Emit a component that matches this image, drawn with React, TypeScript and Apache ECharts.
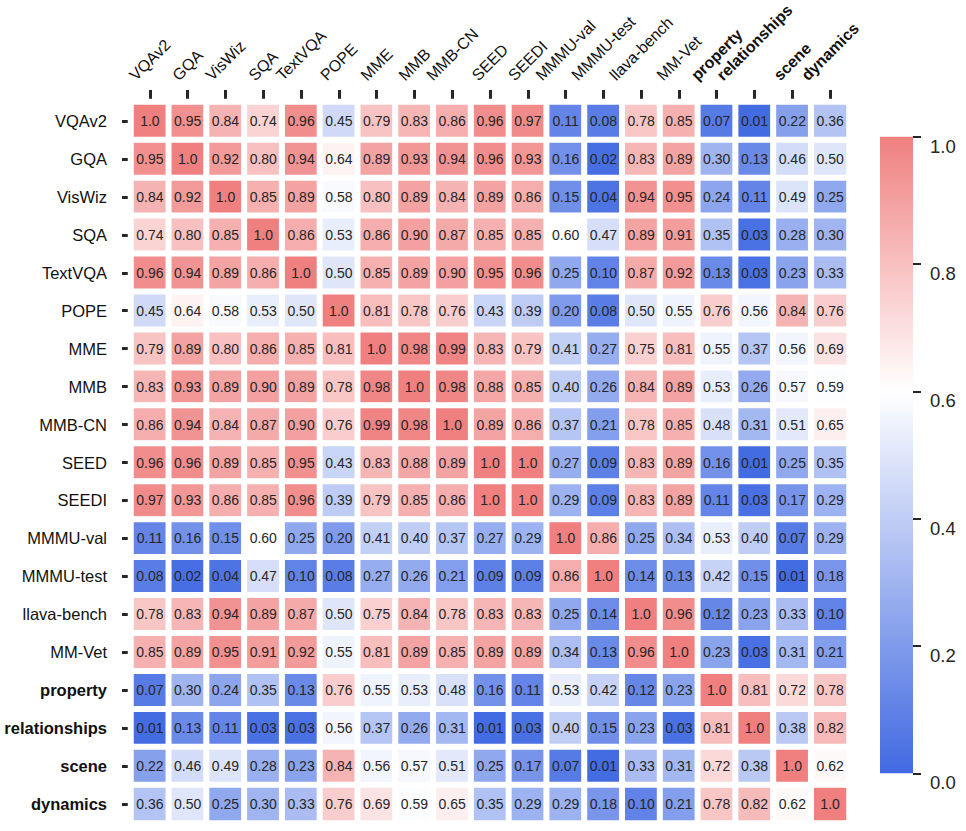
import React, { useEffect, useRef } from 'react';
import * as echarts from 'echarts';

const FONT = '"Liberation Sans", Arial, Helvetica, sans-serif';

const benchmarks = [
  'VQAv2', 'GQA', 'VisWiz', 'SQA', 'TextVQA', 'POPE', 'MME', 'MMB', 'MMB-CN', 'SEED', 'SEEDI',
  'MMMU-val', 'MMMU-test', 'llava-bench', 'MM-Vet', 'property', 'relationships', 'scene', 'dynamics',
];
const boldNames = ['property', 'relationships', 'scene', 'dynamics'];

const rowVQAv2 = [1.0, 0.95, 0.84, 0.74, 0.96, 0.45, 0.79, 0.83, 0.86, 0.96, 0.97, 0.11, 0.08, 0.78, 0.85, 0.07, 0.01, 0.22, 0.36];
const rowGQA = [0.95, 1.0, 0.92, 0.80, 0.94, 0.64, 0.89, 0.93, 0.94, 0.96, 0.93, 0.16, 0.02, 0.83, 0.89, 0.30, 0.13, 0.46, 0.50];
const rowVisWiz = [0.84, 0.92, 1.0, 0.85, 0.89, 0.58, 0.80, 0.89, 0.84, 0.89, 0.86, 0.15, 0.04, 0.94, 0.95, 0.24, 0.11, 0.49, 0.25];
const rowSQA = [0.74, 0.80, 0.85, 1.0, 0.86, 0.53, 0.86, 0.90, 0.87, 0.85, 0.85, 0.60, 0.47, 0.89, 0.91, 0.35, 0.03, 0.28, 0.30];
const rowTextVQA = [0.96, 0.94, 0.89, 0.86, 1.0, 0.50, 0.85, 0.89, 0.90, 0.95, 0.96, 0.25, 0.10, 0.87, 0.92, 0.13, 0.03, 0.23, 0.33];
const rowPOPE = [0.45, 0.64, 0.58, 0.53, 0.50, 1.0, 0.81, 0.78, 0.76, 0.43, 0.39, 0.20, 0.08, 0.50, 0.55, 0.76, 0.56, 0.84, 0.76];
const rowMME = [0.79, 0.89, 0.80, 0.86, 0.85, 0.81, 1.0, 0.98, 0.99, 0.83, 0.79, 0.41, 0.27, 0.75, 0.81, 0.55, 0.37, 0.56, 0.69];
const rowMMB = [0.83, 0.93, 0.89, 0.90, 0.89, 0.78, 0.98, 1.0, 0.98, 0.88, 0.85, 0.40, 0.26, 0.84, 0.89, 0.53, 0.26, 0.57, 0.59];
const rowMMBCN = [0.86, 0.94, 0.84, 0.87, 0.90, 0.76, 0.99, 0.98, 1.0, 0.89, 0.86, 0.37, 0.21, 0.78, 0.85, 0.48, 0.31, 0.51, 0.65];
const rowSEED = [0.96, 0.96, 0.89, 0.85, 0.95, 0.43, 0.83, 0.88, 0.89, 1.0, 1.0, 0.27, 0.09, 0.83, 0.89, 0.16, 0.01, 0.25, 0.35];
const rowSEEDI = [0.97, 0.93, 0.86, 0.85, 0.96, 0.39, 0.79, 0.85, 0.86, 1.0, 1.0, 0.29, 0.09, 0.83, 0.89, 0.11, 0.03, 0.17, 0.29];
const rowMMMUval = [0.11, 0.16, 0.15, 0.60, 0.25, 0.20, 0.41, 0.40, 0.37, 0.27, 0.29, 1.0, 0.86, 0.25, 0.34, 0.53, 0.40, 0.07, 0.29];
const rowMMMUtest = [0.08, 0.02, 0.04, 0.47, 0.10, 0.08, 0.27, 0.26, 0.21, 0.09, 0.09, 0.86, 1.0, 0.14, 0.13, 0.42, 0.15, 0.01, 0.18];
const rowLlavaBench = [0.78, 0.83, 0.94, 0.89, 0.87, 0.50, 0.75, 0.84, 0.78, 0.83, 0.83, 0.25, 0.14, 1.0, 0.96, 0.12, 0.23, 0.33, 0.10];
const rowMMVet = [0.85, 0.89, 0.95, 0.91, 0.92, 0.55, 0.81, 0.89, 0.85, 0.89, 0.89, 0.34, 0.13, 0.96, 1.0, 0.23, 0.03, 0.31, 0.21];
const rowProperty = [0.07, 0.30, 0.24, 0.35, 0.13, 0.76, 0.55, 0.53, 0.48, 0.16, 0.11, 0.53, 0.42, 0.12, 0.23, 1.0, 0.81, 0.72, 0.78];
const rowRelationships = [0.01, 0.13, 0.11, 0.03, 0.03, 0.56, 0.37, 0.26, 0.31, 0.01, 0.03, 0.40, 0.15, 0.23, 0.03, 0.81, 1.0, 0.38, 0.82];
const rowScene = [0.22, 0.46, 0.49, 0.28, 0.23, 0.84, 0.56, 0.57, 0.51, 0.25, 0.17, 0.07, 0.01, 0.33, 0.31, 0.72, 0.38, 1.0, 0.62];
const rowDynamics = [0.36, 0.50, 0.25, 0.30, 0.33, 0.76, 0.69, 0.59, 0.65, 0.35, 0.29, 0.29, 0.18, 0.10, 0.21, 0.78, 0.82, 0.62, 1.0];

const corrRows = [
  rowVQAv2, rowGQA, rowVisWiz, rowSQA, rowTextVQA, rowPOPE, rowMME, rowMMB, rowMMBCN, rowSEED, rowSEEDI,
  rowMMMUval, rowMMMUtest, rowLlavaBench, rowMMVet, rowProperty, rowRelationships, rowScene, rowDynamics,
];

// colormap: royalblue (0) -> white (0.6) -> lightcoral (1.0), evenly spaced stops every 0.2
const cmapStops = ['#4169E1', '#809BEB', '#C0CDF5', '#FFFFFF', '#F8C0C0', '#F08080'];

const LABEL_SIZE = 16.5;
const XLABEL_SIZE = 16;
const TEXT_DARK = '#262626';
const LABEL_COLOR = '#111111';
const GRID_TOP = 102;

export default function App() {
  const ref = useRef<HTMLDivElement>(null);

  useEffect(() => {
    if (!ref.current) return;
    const chart = echarts.init(ref.current, null, { renderer: 'svg' });

    const canvas = document.createElement('canvas');
    const ctx = canvas.getContext('2d') as CanvasRenderingContext2D;
    const measure = (t: string, bold: boolean) => {
      ctx.font = `${bold ? 'bold ' : ''}${XLABEL_SIZE}px ${FONT}`;
      return ctx.measureText(t).width;
    };

    const yData = benchmarks.map((name) => ({
      value: name,
      textStyle: { fontWeight: boldNames.includes(name) ? 'bold' : 'normal' },
    }));

    const heatData: number[][] = [];
    corrRows.forEach((row, yi) => {
      row.forEach((v, xi) => heatData.push([xi, yi, v]));
    });

    const gradient = new echarts.graphic.LinearGradient(0, 0, 0, 1, [
      { offset: 0, color: cmapStops[5] },
      { offset: 0.2, color: cmapStops[4] },
      { offset: 0.4, color: cmapStops[3] },
      { offset: 0.6, color: cmapStops[2] },
      { offset: 0.8, color: cmapStops[1] },
      { offset: 1, color: cmapStops[0] },
    ]);

    chart.setOption({
      animation: false,
      backgroundColor: '#ffffff',
      textStyle: { fontFamily: FONT },
      grid: [
        { left: 131, top: GRID_TOP, width: 718, height: 721, containLabel: false },
        { left: 880, top: 136.7, width: 33, height: 636.6, containLabel: false },
      ],
      xAxis: [
        {
          type: 'category',
          gridIndex: 0,
          position: 'top',
          data: benchmarks,
          axisLine: { show: false },
          axisTick: { show: true, alignWithLabel: true, length: 12, lineStyle: { width: 3, color: TEXT_DARK } },
          axisLabel: { show: false, interval: 0 },
          splitLine: { show: false },
        },
        {
          type: 'category',
          gridIndex: 1,
          data: ['cb'],
          show: false,
        },
      ],
      yAxis: [
        {
          type: 'category',
          gridIndex: 0,
          inverse: true,
          data: yData,
          axisLine: { show: false },
          axisTick: { show: true, alignWithLabel: true, length: 9, lineStyle: { width: 3, color: TEXT_DARK } },
          axisLabel: {
            interval: 0,
            margin: 24,
            fontSize: LABEL_SIZE,
            fontFamily: FONT,
            color: LABEL_COLOR,
          },
          splitLine: { show: false },
        },
        {
          type: 'value',
          gridIndex: 1,
          position: 'right',
          min: 0,
          max: 1,
          interval: 0.2,
          axisLine: { show: false },
          splitLine: { show: false },
          axisTick: { show: true, length: 8, lineStyle: { width: 2, color: TEXT_DARK } },
          axisLabel: {
            margin: 17,
            fontSize: 18.5,
            fontFamily: FONT,
            color: TEXT_DARK,
            verticalAlign: 'top',
            formatter: (v: number) => v.toFixed(1),
          },
        },
      ],
      visualMap: {
        type: 'continuous',
        show: false,
        min: 0,
        max: 1,
        seriesIndex: 0,
        dimension: 2,
        inRange: { color: cmapStops },
      },
      series: [
        {
          type: 'heatmap',
          xAxisIndex: 0,
          yAxisIndex: 0,
          data: heatData,
          itemStyle: { borderColor: '#ffffff', borderWidth: 6 },
          label: {
            show: true,
            fontSize: 14,
            fontFamily: FONT,
            color: TEXT_DARK,
            formatter: (p: any) => {
              const v = p.value[2];
              return v >= 0.995 ? v.toFixed(1) : v.toFixed(2);
            },
          },
          emphasis: { disabled: true },
          silent: true,
        },
        {
          type: 'bar',
          xAxisIndex: 1,
          yAxisIndex: 1,
          data: [1],
          barWidth: '100%',
          itemStyle: { color: gradient },
          silent: true,
        },
      ],
    });

    // Rotated column labels, centred on each tick (matplotlib-style rotation=45)
    const labelEls = benchmarks.map((name) => {
      const bold = boldNames.includes(name);
      const w = measure(name, bold);
      const px = chart.convertToPixel({ xAxisIndex: 0 }, name) as number;
      const cy = GRID_TOP - 20 - 0.3536 * (w + 12);
      return {
        type: 'text',
        x: px,
        y: cy,
        rotation: Math.PI / 4,
        silent: true,
        style: {
          text: name,
          fontSize: XLABEL_SIZE,
          fontFamily: FONT,
          fontWeight: bold ? 'bold' : 'normal',
          fill: LABEL_COLOR,
          align: 'center',
          verticalAlign: 'middle',
          lineHeight: 14,
        },
      };
    });
    chart.setOption({ graphic: labelEls });

    return () => {
      chart.dispose();
    };
  }, []);

  return (
    <div
      ref={ref}
      style={{ position: 'fixed', left: 0, top: 0, width: 966, height: 831, background: '#fff' }}
    />
  );
}
